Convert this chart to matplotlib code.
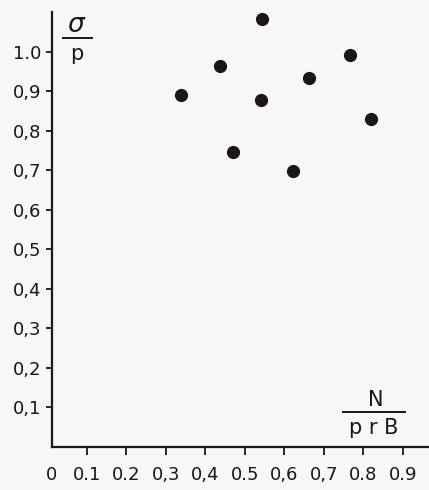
import matplotlib.pyplot as plt

# values
x_vals = [0.338, 0.437, 0.470, 0.543, 0.540, 0.622, 0.662, 0.766, 0.819]
y_vals = [0.891, 0.965, 0.747, 1.083, 0.878, 0.699, 0.934, 0.992, 0.830]

x_ticks = [0.1, 0.2, 0.3, 0.4, 0.5, 0.6, 0.7, 0.8, 0.9]
x_labels = ["0.1", "0.2", "0,3", "0,4", "0.5", "0,6", "0,7", "0.8", "0.9"]
y_ticks = [0.1, 0.2, 0.3, 0.4, 0.5, 0.6, 0.7, 0.8, 0.9, 1.0]
y_labels = ["0,1", "0,2", "0,3", "0,4", "0,5", "0,6", "0,7", "0,8", "0,9", "1.0"]

bg = "#f7f7f7"
ink = "#1c1616"

plt.rcParams['font.family'] = ['DejaVu Sans']
fig = plt.figure(figsize=(4.29, 4.90), dpi=100, facecolor=bg)
ax = fig.add_axes([52 / 429, 43 / 490, 377 / 429, 435 / 490], facecolor=bg)

ax.plot(x_vals, y_vals, 'o', color=ink, markersize=9.5, markeredgewidth=0)

ax.set_xlim(0.0114, 0.966)
ax.set_ylim(0, 1.101)
for s in ['top', 'right']:
    ax.spines[s].set_visible(False)
for s in ['left', 'bottom']:
    ax.spines[s].set_linewidth(1.6)
    ax.spines[s].set_color(ink)

ax.set_xticks(x_ticks)
ax.set_xticklabels(x_labels)
ax.set_yticks(y_ticks)
ax.set_yticklabels(y_labels)
ax.tick_params(axis='x', length=5.5, width=1.3, pad=8, labelsize=13, colors=ink)
ax.tick_params(axis='y', length=4, width=1.3, pad=4, labelsize=13, colors=ink)

# the lone "0" under the corner
ax.text(0.009, -0.071, "0", ha='center', va='center', fontsize=13, color=ink,
        clip_on=False)

# axis labels drawn as fractions
ax.text(0.075, 1.068, r"$\sigma$", ha='center', va='center', fontsize=19, color=ink)
ax.plot([0.039, 0.112], [1.036, 1.036], color=ink, lw=1.4, clip_on=False)
ax.text(0.075, 0.995, "p", ha='center', va='center', fontsize=15, color=ink)

ax.text(0.832, 0.119, "N", ha='center', va='center', fontsize=15, color=ink)
ax.plot([0.748, 0.905], [0.089, 0.089], color=ink, lw=1.4)
ax.text(0.827, 0.048, "p r B", ha='center', va='center', fontsize=15, color=ink)

fig.savefig("out.png", dpi=100, facecolor=bg)
